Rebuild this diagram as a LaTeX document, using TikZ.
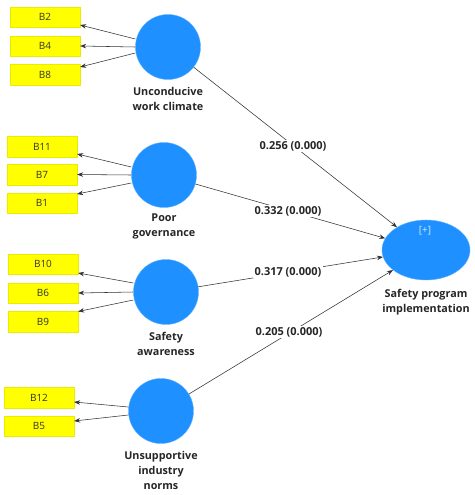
\documentclass[tikz,border=0pt]{standalone}
\usepackage{fontspec}
\setmainfont{Open Sans}
\usetikzlibrary{arrows.meta,shapes.geometric}
\definecolor{lvblue}{RGB}{30,144,255}
\definecolor{indyel}{RGB}{255,255,0}
\definecolor{lnc}{RGB}{50,50,50}
\tikzset{
  x=1pt,y=-1pt,
  ind/.style={draw=indyel!80!black!40!indyel, line width=0.3pt, fill=indyel, minimum width=70pt, minimum height=20.5pt, inner sep=0pt, font=\fontsize{10}{11}\selectfont, text=black!80},
  lv/.style={circle, fill=lvblue, draw=lvblue!70!white, line width=0.4pt, minimum size=65pt, inner sep=0pt},
  lvlab/.style={font=\bfseries\fontsize{10.8}{15}\selectfont, align=center, text=black!85},
  ld/.style={draw=lnc, line width=0.55pt, -{Stealth[length=6pt,width=4.5pt]}},
  coef/.style={fill=white, inner sep=1.5pt, font=\bfseries\fontsize{11}{12}\selectfont, text=black!85},
}
\begin{document}
\begin{tikzpicture}
\useasboundingbox (0,0) rectangle (474,495);
% indicators
\node[ind] (b2) at (45,17) {B2};
\node[ind] (b4) at (45,46) {B4};
\node[ind] (b8) at (45,74.5) {B8};
\node[ind] (b11) at (42,146.5) {B11};
\node[ind] (b7) at (42,174.5) {B7};
\node[ind] (b1) at (42,203) {B1};
\node[ind] (b10) at (43,264) {B10};
\node[ind] (b6) at (43,293) {B6};
\node[ind] (b9) at (43,321.5) {B9};
\node[ind] (b12) at (39,397.5) {B12};
\node[ind] (b5) at (39,426) {B5};
% latent variables
\node[lv] (c1) at (168,47) {};
\node[lv] (c2) at (164,175) {};
\node[lv] (c3) at (166,292) {};
\node[lv] (c4) at (161,411) {};
\node[ellipse, fill=lvblue, draw=lvblue!70!white, line width=0.4pt, minimum width=88pt, minimum height=60pt, inner sep=0pt] (spi) at (426,250) {};
\node[font=\fontsize{10}{11}\selectfont, text=white!80!lvblue] (plus) at (425,231) {[+]};
% labels
\node[lvlab] (l1) at (168,98.5) {Unconducive\\work climate};
\node[lvlab] (l2) at (164,226.5) {Poor\\governance};
\node[lvlab] (l3) at (166,344) {Safety\\awareness};
\node[lvlab] (l4) at (161,470) {Unsupportive\\industry\\norms};
\node[lvlab] (l5) at (426,302) {Safety program\\implementation};
% outer loadings
\draw[ld] ([yshift=8pt]c1.west) -- ([yshift=-8pt]b2.east);
\draw[ld] (c1.west) -- (b4.east);
\draw[ld] ([yshift=-6pt]c1.west) -- ([yshift=7.5pt]b8.east);
\draw[ld] ([yshift=8pt]c2.west) -- ([yshift=-7.5pt]b11.east);
\draw[ld] (c2.west) -- (b7.east);
\draw[ld] ([yshift=-8pt]c2.west) -- ([yshift=9pt]b1.east);
\draw[ld] ([yshift=9pt]c3.west) -- ([yshift=-9pt]b10.east);
\draw[ld] (c3.west) -- (b6.east);
\draw[ld] ([yshift=-8pt]c3.west) -- ([yshift=10pt]b9.east);
\draw[ld] ([yshift=4pt]c4.west) -- ([yshift=-4.5pt]b12.east);
\draw[ld] ([yshift=-4pt]c4.west) -- ([yshift=5pt]b5.east);
% structural paths
\draw[ld] (c1) -- (spi);
\draw[ld] (c2) -- (spi);
\draw[ld] (c3) -- (spi);
\draw[ld] (c4) -- (spi);
\node[coef] (p1) at (293,146) {0.256 (0.000)};
\node[coef] (p2) at (288,211) {0.332 (0.000)};
\node[coef] (p3) at (288,272) {0.317 (0.000)};
\node[coef] (p4) at (289,332) {0.205 (0.000)};
\end{tikzpicture}
\end{document}
